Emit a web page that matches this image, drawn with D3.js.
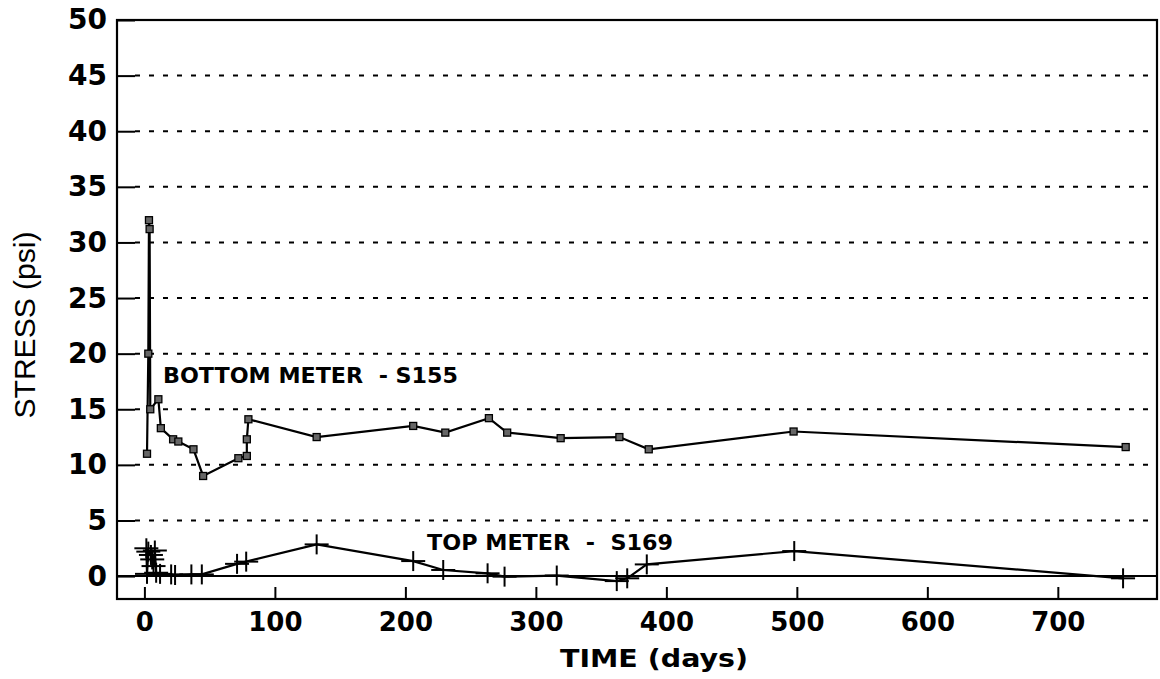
<!doctype html>
<html>
<head>
<meta charset="UTF-8">
<script src="https://d3js.org/d3.v7.min.js"></script>
<style>
  body { margin: 0; background: #fff; }
  svg { display: block; }
  .tick text { font-family: "DejaVu Sans", sans-serif; font-weight: bold; fill: #000; }
</style>
</head>
<body>
<script>
// days, stress (psi)
const bottomDays   = [2, 3, 3.5, 4, 4.5, 10.7, 12.6, 22, 26, 37.6, 45, 72, 78.5, 78.5, 79.7, 132, 206, 230.6, 264, 278, 319, 364, 386.5, 497.5, 752];
const bottomStress = [11, 20, 32, 31.2, 15, 15.9, 13.3, 12.3, 12.1, 11.4, 9.0, 10.6, 10.8, 12.3, 14.1, 12.5, 13.5, 12.9, 14.2, 12.9, 12.4, 12.5, 11.4, 13.0, 11.6];

const topDays   = [1.5, 2, 3, 5, 6, 7, 8, 9, 12, 20.5, 23.5, 36, 44, 71, 78, 132, 206, 229, 263, 276, 316, 362, 370, 385, 498, 750];
const topStress = [2.5, 0.2, 2.2, 1.9, 1.5, 0.9, 2.3, 0.3, 0.2, 0.15, 0.1, 0.15, 0.15, 1.1, 1.3, 2.85, 1.35, 0.55, 0.25, -0.05, 0.05, -0.45, -0.2, 1.05, 2.25, -0.2];

const xTicks = [0, 100, 200, 300, 400, 500, 600, 700];
const yTicks = [0, 5, 10, 15, 20, 25, 30, 35, 40, 45, 50];
const gridValues = [5, 10, 15, 20, 25, 30, 35, 40, 45];

(function(){

const W = 1160, H = 679;
const margin = { left: 117, right: 1157, top: 20, bottom: 599 };

const svg = d3.select("body").append("svg")
    .attr("width", W)
    .attr("height", H);

const x = d3.scaleLinear().domain([-21, 776]).range([margin.left, margin.right]);
const y = d3.scaleLinear().domain([-2.06, 50]).range([margin.bottom, margin.top]);

// dotted grid
svg.append("g").selectAll("line")
    .data(gridValues)
    .enter().append("line")
      .attr("x1", margin.left + 18).attr("x2", margin.right)
      .attr("y1", d => y(d)).attr("y2", d => y(d))
      .attr("stroke", "#000")
      .attr("stroke-width", 2)
      .attr("stroke-dasharray", "5,9");

// zero line
svg.append("line")
    .attr("x1", margin.left).attr("x2", margin.right)
    .attr("y1", y(0)).attr("y2", y(0))
    .attr("stroke", "#000")
    .attr("stroke-width", 2);

// axes
const xAxis = svg.append("g")
    .attr("transform", "translate(0," + margin.bottom + ")")
    .call(d3.axisBottom(x).tickValues(xTicks).tickSizeInner(-12).tickSizeOuter(0).tickPadding(14));
xAxis.select(".domain").remove();
xAxis.selectAll(".tick line").attr("stroke", "#000").attr("stroke-width", 2);
xAxis.selectAll(".tick text").style("font-size", "26px");

const yAxis = svg.append("g")
    .attr("transform", "translate(" + margin.left + ",0)")
    .call(d3.axisLeft(y).tickValues(yTicks).tickSizeInner(-18).tickSizeOuter(0).tickPadding(10));
yAxis.select(".domain").remove();
yAxis.selectAll(".tick line").attr("stroke", "#000").attr("stroke-width", 2);
yAxis.selectAll(".tick text").style("font-size", "28px");

// frame
svg.append("rect")
    .attr("x", margin.left).attr("y", margin.top)
    .attr("width", margin.right - margin.left).attr("height", margin.bottom - margin.top)
    .attr("fill", "none")
    .attr("stroke", "#000")
    .attr("stroke-width", 2.2);

// axis titles
svg.append("text")
    .attr("transform", "translate(35,325) rotate(-90)")
    .attr("text-anchor", "middle")
    .style("font-family", "'Liberation Sans', sans-serif")
    .style("font-size", "30px")
    .attr("textLength", 187)
    .attr("lengthAdjust", "spacingAndGlyphs")
    .text("STRESS (psi)");

svg.append("text")
    .attr("x", 560).attr("y", 667)
    .style("font-family", "'DejaVu Sans', sans-serif")
    .style("font-weight", "bold")
    .style("font-size", "24px")
    .attr("textLength", 188)
    .attr("lengthAdjust", "spacingAndGlyphs")
    .text("TIME (days)");

// series
const line = d3.line().x(d => x(d[0])).y(d => y(d[1]));
const bottomData = bottomDays.map((d, i) => [d, bottomStress[i]]);
const topData = topDays.map((d, i) => [d, topStress[i]]);

svg.append("path")
    .datum(bottomData)
    .attr("d", line)
    .attr("fill", "none")
    .attr("stroke", "#000")
    .attr("stroke-width", 2.2);

svg.append("g").selectAll("rect")
    .data(bottomData)
    .enter().append("rect")
      .attr("x", d => x(d[0]) - 3.5)
      .attr("y", d => y(d[1]) - 3.5)
      .attr("width", 7).attr("height", 7)
      .attr("fill", "#666")
      .attr("stroke", "#000")
      .attr("stroke-width", 1.3);

svg.append("path")
    .datum(topData)
    .attr("d", line)
    .attr("fill", "none")
    .attr("stroke", "#000")
    .attr("stroke-width", 2.2);

const plus = svg.append("g").selectAll("g")
    .data(topData)
    .enter().append("g")
      .attr("transform", d => "translate(" + x(d[0]) + "," + y(d[1]) + ")");
plus.append("line")
    .attr("x1", -12).attr("x2", 12).attr("y1", 0).attr("y2", 0)
    .attr("stroke", "#000").attr("stroke-width", 2);
plus.append("line")
    .attr("x1", 0).attr("x2", 0).attr("y1", -10).attr("y2", 10)
    .attr("stroke", "#000").attr("stroke-width", 2);

// series labels
svg.append("text")
    .attr("x", 163).attr("y", 383)
    .style("font-family", "'DejaVu Sans', sans-serif")
    .style("font-weight", "bold")
    .style("font-size", "21px")
    .attr("textLength", 295)
    .attr("lengthAdjust", "spacingAndGlyphs")
    .style("white-space", "pre")
    .text("BOTTOM METER  - S155");

svg.append("text")
    .attr("x", 427).attr("y", 550)
    .style("font-family", "'DejaVu Sans', sans-serif")
    .style("font-weight", "bold")
    .style("font-size", "22px")
    .attr("textLength", 246)
    .attr("lengthAdjust", "spacingAndGlyphs")
    .style("white-space", "pre")
    .text("TOP METER  -  S169");

})();
</script>
</body>
</html>
